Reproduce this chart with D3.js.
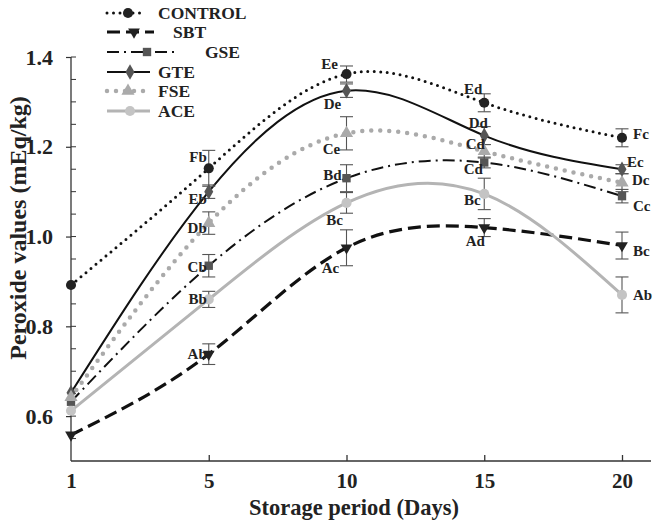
<!DOCTYPE html>
<html>
<head>
<meta charset="utf-8">
<script src="https://cdn.jsdelivr.net/npm/d3@7"></script>
<style>
  body { margin: 0; background: #fff; }
  svg { display: block; font-family: "Liberation Serif", "Times New Roman", serif; font-weight: bold; }
</style>
</head>
<body>
<svg id="chart" width="654" height="521"></svg>
<script>
// ---- data ----
const days = [1, 5, 10, 15, 20];
const seriesNames = ["CONTROL", "SBT", "GSE", "GTE", "FSE", "ACE"];
const controlValues = [0.892, 1.152, 1.362, 1.298, 1.220];
const sbtValues     = [0.558, 0.738, 0.975, 1.020, 0.980];
const gseValues     = [0.632, 0.935, 1.130, 1.165, 1.090];
const gteValues     = [0.652, 1.100, 1.325, 1.225, 1.150];
const fseValues     = [0.642, 1.030, 1.230, 1.190, 1.120];
const aceValues     = [0.612, 0.860, 1.075, 1.095, 0.870];
const controlErr = [0, 0.040, 0.018, 0.020, 0.020];
const sbtErr     = [0, 0.023, 0.040, 0.020, 0.030];
const gseErr     = [0, 0.025, 0.030, 0.012, 0.015];
const gteErr     = [0, 0.015, 0.015, 0.020, 0.010];
const fseErr     = [0, 0.025, 0.037, 0.015, 0.020];
const aceErr     = [0, 0.018, 0.023, 0.035, 0.040];
const controlLetters = ["", "Fb", "Ee", "Ed", "Fc"];
const sbtLetters     = ["", "Ab", "Ac", "Ad", "Bc"];
const gseLetters     = ["", "Cb", "Bd", "Cd", "Cc"];
const gteLetters     = ["", "Eb", "De", "Dd", "Ec"];
const fseLetters     = ["", "Db", "Ce", "Cd", "Dc"];
const aceLetters     = ["", "Bb", "Bc", "Bc", "Ab"];
const yTicks = [0.6, 0.8, 1.0, 1.2, 1.4];
const xLabel = "Storage period (Days)";
const yLabel = "Peroxide values (mEq/kg)";

// ---- styles ----
const styles = {
  CONTROL: { stroke: "#111", width: 3, dash: "0 6.5", cap: "round", marker: d3.symbolCircle, mfill: "#222", msize: 80 },
  SBT:     { stroke: "#111", width: 3.2, dash: "13 6", cap: "butt", marker: "tri-down", mfill: "#222", msize: 60 },
  GSE:     { stroke: "#111", width: 2, dash: "12 5 2 5", cap: "butt", marker: d3.symbolSquare, mfill: "#555", msize: 70 },
  GTE:     { stroke: "#111", width: 2, dash: null, cap: "butt", marker: d3.symbolDiamond, mfill: "#555", msize: 70 },
  FSE:     { stroke: "#aaa", width: 4.5, dash: "0 9", cap: "round", marker: d3.symbolTriangle, mfill: "#aaa", msize: 75 },
  ACE:     { stroke: "#b4b4b4", width: 3, dash: null, cap: "butt", marker: d3.symbolCircle, mfill: "#c4c4c4", msize: 80 }
};
// label placement per series per day: [anchor, dx, dy]
const labelPlacement = {
  CONTROL: [null, ["end", -2, -11], ["middle", -17, -10], ["middle", -11, -14], ["start", 11, -4]],
  SBT:     [null, ["end", -2, 0],   ["middle", -16, 20],  ["middle", -9, 13],   ["start", 11, 5]],
  GSE:     [null, ["end", -2, 1],   ["middle", -14, -3],  ["middle", -11, 7],   ["start", 11, 10]],
  GTE:     [null, ["end", -2, 7],   ["middle", -14, 13],  ["middle", -6, -13],  ["start", 5, -7]],
  FSE:     [null, ["end", -2, 5],   ["middle", -15, 16],  ["middle", -9, -7],   ["start", 10, -3]],
  ACE:     [null, ["end", -2, 0],   ["middle", -12, 17],  ["middle", -12, 6],   ["start", 11, 0]]
};
const legendPlacement = {
  CONTROL: { y: 13, x2: 144, mx: 128, tx: 158 },
  SBT:     { y: 32, x2: 154, mx: 134, tx: 173 },
  GSE:     { y: 52, x2: 179, mx: 147, tx: 205 },
  GTE:     { y: 72, x2: 150, mx: 130, tx: 158 },
  FSE:     { y: 91, x2: 146, mx: 128, tx: 158 },
  ACE:     { y: 111, x2: 150, mx: 130, tx: 158 }
};

const seriesValues = [controlValues, sbtValues, gseValues, gteValues, fseValues, aceValues];
const seriesErr = [controlErr, sbtErr, gseErr, gteErr, fseErr, aceErr];
const seriesLetters = [controlLetters, sbtLetters, gseLetters, gteLetters, fseLetters, aceLetters];
const series = seriesNames.map((name, i) => ({
  name,
  points: days.map((d, j) => ({ day: d, v: seriesValues[i][j], e: seriesErr[i][j], letter: seriesLetters[i][j], j }))
}));

const svg = d3.select("#chart");
const x = d3.scalePoint().domain(days).range([71, 622]);
const y = d3.scaleLinear().domain([0.5, 1.4]).range([461, 57]);

// axes
const axisColor = "#333";
svg.append("line").attr("x1", 71).attr("x2", 651).attr("y1", 461).attr("y2", 461)
  .attr("stroke", axisColor).attr("stroke-width", 1.3);
svg.append("line").attr("x1", 71).attr("x2", 71).attr("y1", 57).attr("y2", 461)
  .attr("stroke", axisColor).attr("stroke-width", 1.3);

const xAxis = d3.axisBottom(x).tickSize(-6).tickSizeOuter(0).tickPadding(12);
const gx = svg.append("g").attr("transform", "translate(0,461)").call(xAxis);
gx.select(".domain").remove();
gx.selectAll(".tick line").attr("stroke", axisColor).attr("stroke-width", 1.3)
  .filter(d => d === days[0]).remove();
gx.selectAll(".tick text").attr("font-size", 21).attr("font-family", "Liberation Serif")
  .attr("font-weight", "bold").attr("fill", "#222");

const yAxis = d3.axisLeft(y).tickValues(yTicks).tickSize(5).tickSizeOuter(0).tickPadding(13)
  .tickFormat(d3.format(".1f"));
const gy = svg.append("g").attr("transform", "translate(71,0)").call(yAxis);
gy.select(".domain").remove();
gy.selectAll(".tick line").attr("stroke", axisColor).attr("stroke-width", 1.2);
gy.selectAll(".tick text").attr("font-size", 22).attr("font-family", "Liberation Serif")
  .attr("font-weight", "bold").attr("fill", "#222");
// minor inward ticks
const minor = d3.range(0.55, 1.4001, 0.05);
svg.append("g").selectAll("line").data(minor).join("line")
  .attr("x1", 71).attr("x2", 76).attr("y1", d => y(d)).attr("y2", d => y(d))
  .attr("stroke", axisColor).attr("stroke-width", 1);

// axis titles
svg.append("text").attr("x", 354).attr("y", 515).attr("text-anchor", "middle")
  .attr("font-size", 22.5).attr("fill", "#222").text(xLabel);
svg.append("text").attr("transform", "translate(26,228) rotate(-90)").attr("text-anchor", "middle")
  .attr("font-size", 24).attr("fill", "#222").text(yLabel);

function markerPath(st) {
  if (st.marker === "tri-down") {
    return d3.symbol().type(d3.symbolTriangle).size(st.msize)();
  }
  return d3.symbol().type(st.marker).size(st.msize)();
}
function markerTransform(st, px, py) {
  return st.marker === "tri-down" ? `translate(${px},${py}) rotate(180)` : `translate(${px},${py})`;
}

const line = d3.line().x(d => x(d.day)).y(d => y(d.v)).curve(d3.curveNatural);

// lines
series.forEach(s => {
  const st = styles[s.name];
  svg.append("path").datum(s.points).attr("d", line)
    .attr("fill", "none").attr("stroke", st.stroke).attr("stroke-width", st.width)
    .attr("stroke-dasharray", st.dash).attr("stroke-linecap", st.cap);
});

// error bars
series.forEach(s => {
  const g = svg.append("g").attr("stroke", "#555").attr("stroke-width", 1.1);
  s.points.filter(p => p.e > 0).forEach(p => {
    const px = x(p.day), y1 = y(p.v + p.e), y2 = y(p.v - p.e);
    g.append("line").attr("x1", px).attr("x2", px).attr("y1", y1).attr("y2", y2);
    g.append("line").attr("x1", px - 6.5).attr("x2", px + 6.5).attr("y1", y1).attr("y2", y1);
    g.append("line").attr("x1", px - 6.5).attr("x2", px + 6.5).attr("y1", y2).attr("y2", y2);
  });
});

// markers
series.forEach(s => {
  const st = styles[s.name];
  svg.append("g").selectAll("path").data(s.points).join("path")
    .attr("d", markerPath(st))
    .attr("transform", p => markerTransform(st, x(p.day), y(p.v)))
    .attr("fill", st.mfill);
});

// letters
series.forEach(s => {
  const pl = labelPlacement[s.name];
  svg.append("g").selectAll("text").data(s.points.filter(p => p.letter)).join("text")
    .attr("x", p => x(p.day) + pl[p.j][1])
    .attr("y", p => y(p.v) + pl[p.j][2])
    .attr("text-anchor", p => pl[p.j][0])
    .attr("dominant-baseline", "central")
    .attr("font-size", 15).attr("fill", "#222")
    .text(p => p.letter);
});

// legend
series.forEach(s => {
  const st = styles[s.name], lp = legendPlacement[s.name];
  const g = svg.append("g");
  g.append("line").attr("x1", 107).attr("x2", lp.x2).attr("y1", lp.y).attr("y2", lp.y)
    .attr("stroke", st.stroke).attr("stroke-width", st.width)
    .attr("stroke-dasharray", st.dash).attr("stroke-linecap", st.cap);
  g.append("path").attr("d", markerPath(st)).attr("transform", markerTransform(st, lp.mx, lp.y))
    .attr("fill", st.mfill);
  g.append("text").attr("x", lp.tx).attr("y", lp.y).attr("dominant-baseline", "central")
    .attr("font-size", 17.5).attr("fill", "#222").text(s.name);
});
</script>
</body>
</html>
